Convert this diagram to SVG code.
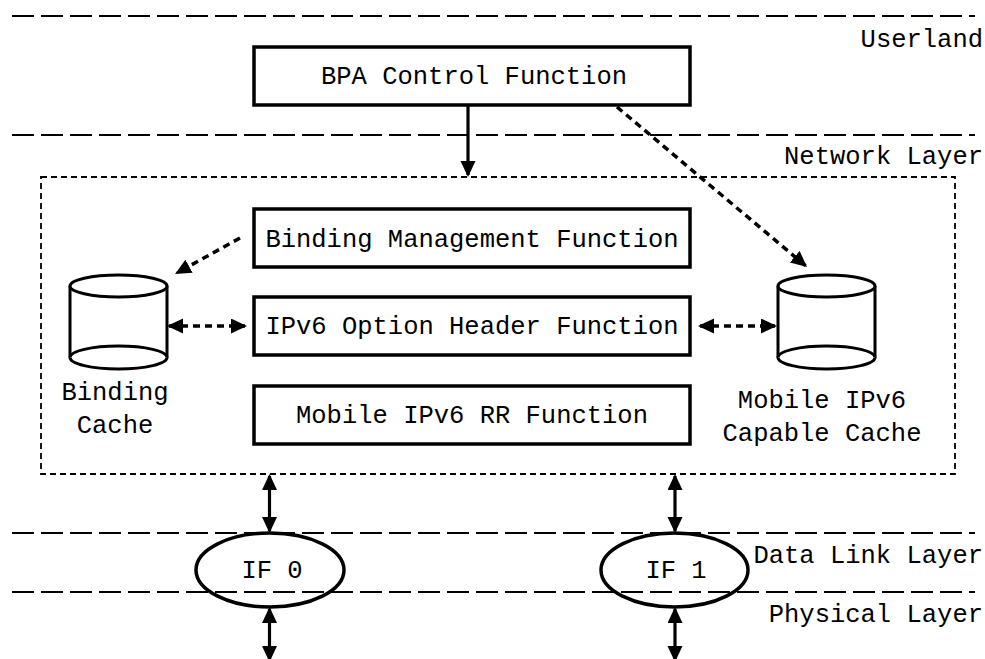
<svg xmlns="http://www.w3.org/2000/svg" width="985" height="659" viewBox="0 0 985 659">
<style>
text{font-family:"Liberation Mono","Courier New",monospace;font-size:25.5px;fill:#000}
.mid{text-anchor:middle}
.end{text-anchor:end}
.layer{stroke:#000;stroke-width:2;stroke-dasharray:22 7;fill:none}
.box{fill:#fff;stroke:#000;stroke-width:3.5}
.frame{fill:none;stroke:#000;stroke-width:1.8;stroke-dasharray:6 4}
.cyl{fill:#fff;stroke:#000;stroke-width:3}
.solid{stroke:#000;stroke-width:3.2;fill:none}
.dash{stroke:#000;stroke-width:3.5;fill:none;stroke-dasharray:7 5}
</style>
<defs>
<marker id="ah" markerUnits="userSpaceOnUse" markerWidth="17" markerHeight="16" refX="14" refY="7.5" orient="auto-start-reverse" viewBox="0 0 17 16">
<path d="M0,0 L16,7.5 L0,15 z" fill="#000"/>
</marker>
</defs>
<rect width="985" height="659" fill="#fff"/>
<g id="layers">
<line class="layer" x1="12" y1="16" x2="975" y2="16"/>
<line class="layer" x1="12" y1="135" x2="975" y2="135"/>
<line class="layer" x1="12" y1="533" x2="975" y2="533"/>
<line class="layer" x1="12" y1="592" x2="975" y2="592"/>
<text class="end" x="983" y="47">Userland</text>
<text class="end" x="983" y="164">Network Layer</text>
<text class="end" x="983" y="563">Data Link Layer</text>
<text class="end" x="983" y="622">Physical Layer</text>
</g>
<g id="network-frame">
<rect class="frame" x="41" y="177" width="914" height="297"/>
</g>
<g id="bpa">
<rect class="box" x="254" y="47" width="436" height="58"/>
<text class="mid" x="474" y="84">BPA Control Function</text>
</g>
<g id="bmf">
<rect class="box" x="254" y="209" width="436" height="58"/>
<text class="mid" x="472" y="247">Binding Management Function</text>
</g>
<g id="ipv6oh">
<rect class="box" x="254" y="297" width="436" height="58"/>
<text class="mid" x="472" y="334">IPv6 Option Header Function</text>
</g>
<g id="mip6rr">
<rect class="box" x="254" y="386" width="436" height="58"/>
<text class="mid" x="472" y="423">Mobile IPv6 RR Function</text>
</g>
<g id="binding-cache">
<path class="cyl" d="M70,286 L70,357.5 A48.5,11.5 0 0 0 167,357.5 L167,286"/>
<ellipse class="cyl" cx="118.5" cy="286" rx="48.5" ry="11"/>
<path class="cyl" d="M70,357.5 A48.5,11.5 0 0 1 167,357.5" fill="none"/>
<text class="mid" x="115" y="400">Binding</text>
<text class="mid" x="115" y="433">Cache</text>
</g>
<g id="mobile-cache">
<path class="cyl" d="M778,286 L778,357.5 A48.5,11.5 0 0 0 875,357.5 L875,286"/>
<ellipse class="cyl" cx="826.5" cy="286" rx="48.5" ry="11"/>
<path class="cyl" d="M778,357.5 A48.5,11.5 0 0 1 875,357.5" fill="none"/>
<text class="mid" x="822" y="408">Mobile IPv6</text>
<text class="mid" x="822" y="441">Capable Cache</text>
</g>
<g id="if0">
<ellipse cx="270" cy="570" rx="74" ry="37" fill="none" stroke="#000" stroke-width="3.5"/>
<text class="mid" x="272" y="578">IF 0</text>
</g>
<g id="if1">
<ellipse cx="674.5" cy="570" rx="73.5" ry="37" fill="none" stroke="#000" stroke-width="3.5"/>
<text class="mid" x="676" y="578">IF 1</text>
</g>
<g id="connectors">
<line class="solid" x1="468" y1="105" x2="468" y2="175" marker-end="url(#ah)"/>
<line class="dash" x1="617" y1="107" x2="805.5" y2="265.7" marker-end="url(#ah)"/>
<line class="dash" x1="240" y1="238" x2="176.8" y2="273" marker-end="url(#ah)"/>
<line class="dash" x1="169" y1="326" x2="245" y2="326" marker-start="url(#ah)" marker-end="url(#ah)"/>
<line class="dash" x1="700" y1="326" x2="775" y2="326" marker-start="url(#ah)" marker-end="url(#ah)"/>
<line class="solid" x1="269.5" y1="476" x2="269.5" y2="531" marker-start="url(#ah)" marker-end="url(#ah)"/>
<line class="solid" x1="269.5" y1="609" x2="269.5" y2="660" marker-start="url(#ah)" marker-end="url(#ah)"/>
<line class="solid" x1="675" y1="476" x2="675" y2="531" marker-start="url(#ah)" marker-end="url(#ah)"/>
<line class="solid" x1="675" y1="609" x2="675" y2="660" marker-start="url(#ah)" marker-end="url(#ah)"/>
</g>
</svg>
